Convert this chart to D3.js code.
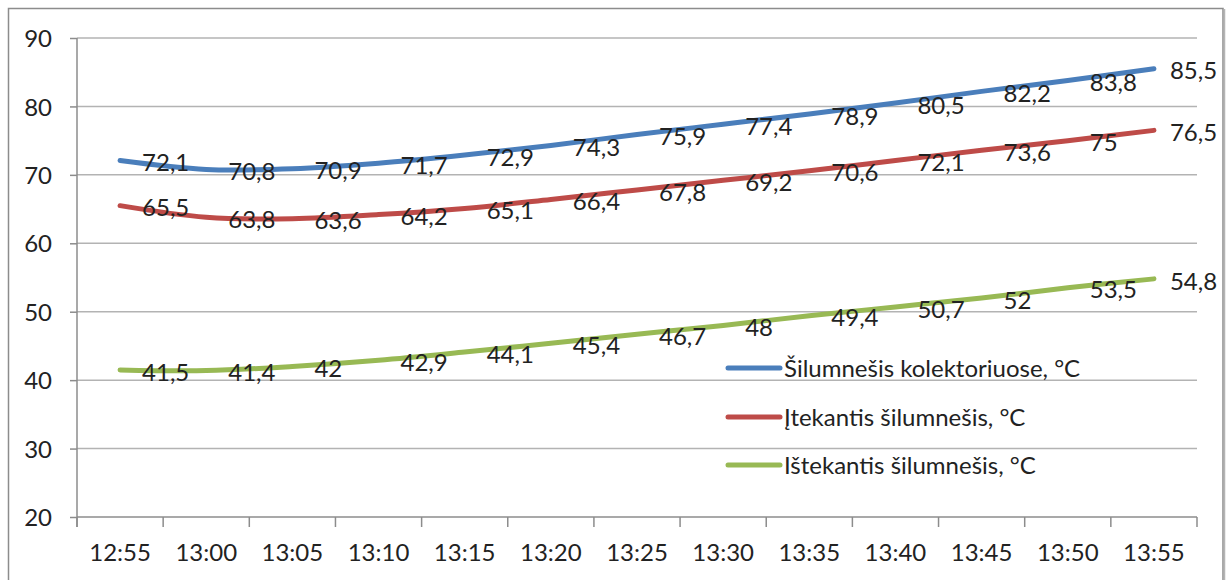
<!DOCTYPE html>
<html>
<head>
<meta charset="utf-8">
<script src="https://cdn.jsdelivr.net/npm/d3@7"></script>
<style>
  body { margin: 0; background: #fff; }
  svg { display: block; }
  text { font-family: Lato, "Open Sans", sans-serif; fill: #222; }
</style>
</head>
<body>
<svg id="chart" width="1231" height="580"></svg>
<script>
const categories = ["12:55","13:00","13:05","13:10","13:15","13:20","13:25","13:30","13:35","13:40","13:45","13:50","13:55"];
const seriesNames = ["Šilumnešis kolektoriuose, °C", "Įtekantis šilumnešis, °C", "Ištekantis šilumnešis, °C"];
const kolektoriuose = [72.1, 70.8, 70.9, 71.7, 72.9, 74.3, 75.9, 77.4, 78.9, 80.5, 82.2, 83.8, 85.5];
const itekantis = [65.5, 63.8, 63.6, 64.2, 65.1, 66.4, 67.8, 69.2, 70.6, 72.1, 73.6, 75, 76.5];
const istekantis = [41.5, 41.4, 42, 42.9, 44.1, 45.4, 46.7, 48, 49.4, 50.7, 52, 53.5, 54.8];
const yTicks = [20, 30, 40, 50, 60, 70, 80, 90];
const colors = ["#4a7ebb", "#be4b48", "#98b954"];

const series = [kolektoriuose, itekantis, istekantis];
const FS = 24;

const svg = d3.select("#chart");

// outer border
svg.append("rect").attr("x", 8.5).attr("y", 8.5).attr("width", 1214.5).attr("height", 600)
  .attr("fill", "none").attr("stroke", "#8c8c8c").attr("stroke-width", 1.5);
svg.append("line").attr("x1", 1224.5).attr("x2", 1224.5).attr("y1", 9).attr("y2", 580)
  .attr("stroke", "#b5b5b5").attr("stroke-width", 1.5);

const pLeft = 77, pRight = 1197, pTop = 38, pBottom = 517;
const x = d3.scaleBand().domain(categories).range([pLeft, pRight]).paddingInner(0).paddingOuter(0);
const y = d3.scaleLinear().domain([20, 90]).range([pBottom, pTop]);

// gridlines
svg.append("g").selectAll("line").data(yTicks.filter(t => t !== 20)).join("line")
  .attr("x1", pLeft).attr("x2", pRight)
  .attr("y1", d => y(d)).attr("y2", d => y(d))
  .attr("stroke", "#b3b3b3").attr("stroke-width", 1.5);

// y axis
const yAxis = svg.append("g").attr("transform", `translate(${pLeft},0)`)
  .call(d3.axisLeft(y).tickValues(yTicks).tickSize(7).tickPadding(18).tickFormat(d3.format("d")));
yAxis.select(".domain").remove();
yAxis.selectAll(".tick line").attr("stroke", "#8c8c8c").attr("stroke-width", 1.5);
yAxis.selectAll(".tick text").attr("font-size", FS).attr("fill", "#222").attr("dy", "0.36em")
  .style("font-family", "Lato, sans-serif");
svg.append("line").attr("x1", pLeft).attr("x2", pLeft).attr("y1", pTop).attr("y2", pBottom + 10)
  .attr("stroke", "#8c8c8c").attr("stroke-width", 1.5);

// x axis
svg.append("line").attr("x1", pLeft).attr("x2", pRight).attr("y1", pBottom).attr("y2", pBottom)
  .attr("stroke", "#8c8c8c").attr("stroke-width", 1.5);
const boundaries = categories.map(c => x(c)).concat([x(categories[categories.length - 1]) + x.bandwidth()]);
svg.append("g").selectAll("line").data(boundaries).join("line")
  .attr("x1", d => d).attr("x2", d => d).attr("y1", pBottom).attr("y2", pBottom + 10)
  .attr("stroke", "#8c8c8c").attr("stroke-width", 1.5);
svg.append("g").selectAll("text").data(categories).join("text")
  .attr("x", d => x(d) + x.bandwidth() / 2).attr("y", 561)
  .attr("text-anchor", "middle").attr("font-size", FS).text(d => d);

// lines
const cx = i => x(categories[i]) + x.bandwidth() / 2;
const line = d3.line().x((d, i) => cx(i)).y(d => y(d)).curve(d3.curveCatmullRom.alpha(0));
series.forEach((s, k) => {
  svg.append("path").datum(s).attr("d", line).attr("fill", "none")
    .attr("stroke", colors[k]).attr("stroke-width", 5).attr("stroke-linecap", "round");
});

// data labels
const fmt = v => String(v).replace(".", ",");
series.forEach((s, k) => {
  svg.append("g").selectAll("text").data(s).join("text")
    .attr("x", (d, i) => i === s.length - 1 ? cx(i) + 16 : cx(i) + 22)
    .attr("y", d => y(d) + 2)
    .attr("dy", "0.36em")
    .attr("font-size", FS)
    .text(d => fmt(d));
});

// legend
const legY = [368, 417, 465];
seriesNames.forEach((n, k) => {
  svg.append("line").attr("x1", 728).attr("x2", 780).attr("y1", legY[k]).attr("y2", legY[k])
    .attr("stroke", colors[k]).attr("stroke-width", 5).attr("stroke-linecap", "round");
  svg.append("text").attr("x", 784).attr("y", legY[k]).attr("dy", "0.36em")
    .attr("font-size", FS).text(n);
});
</script>
</body>
</html>
